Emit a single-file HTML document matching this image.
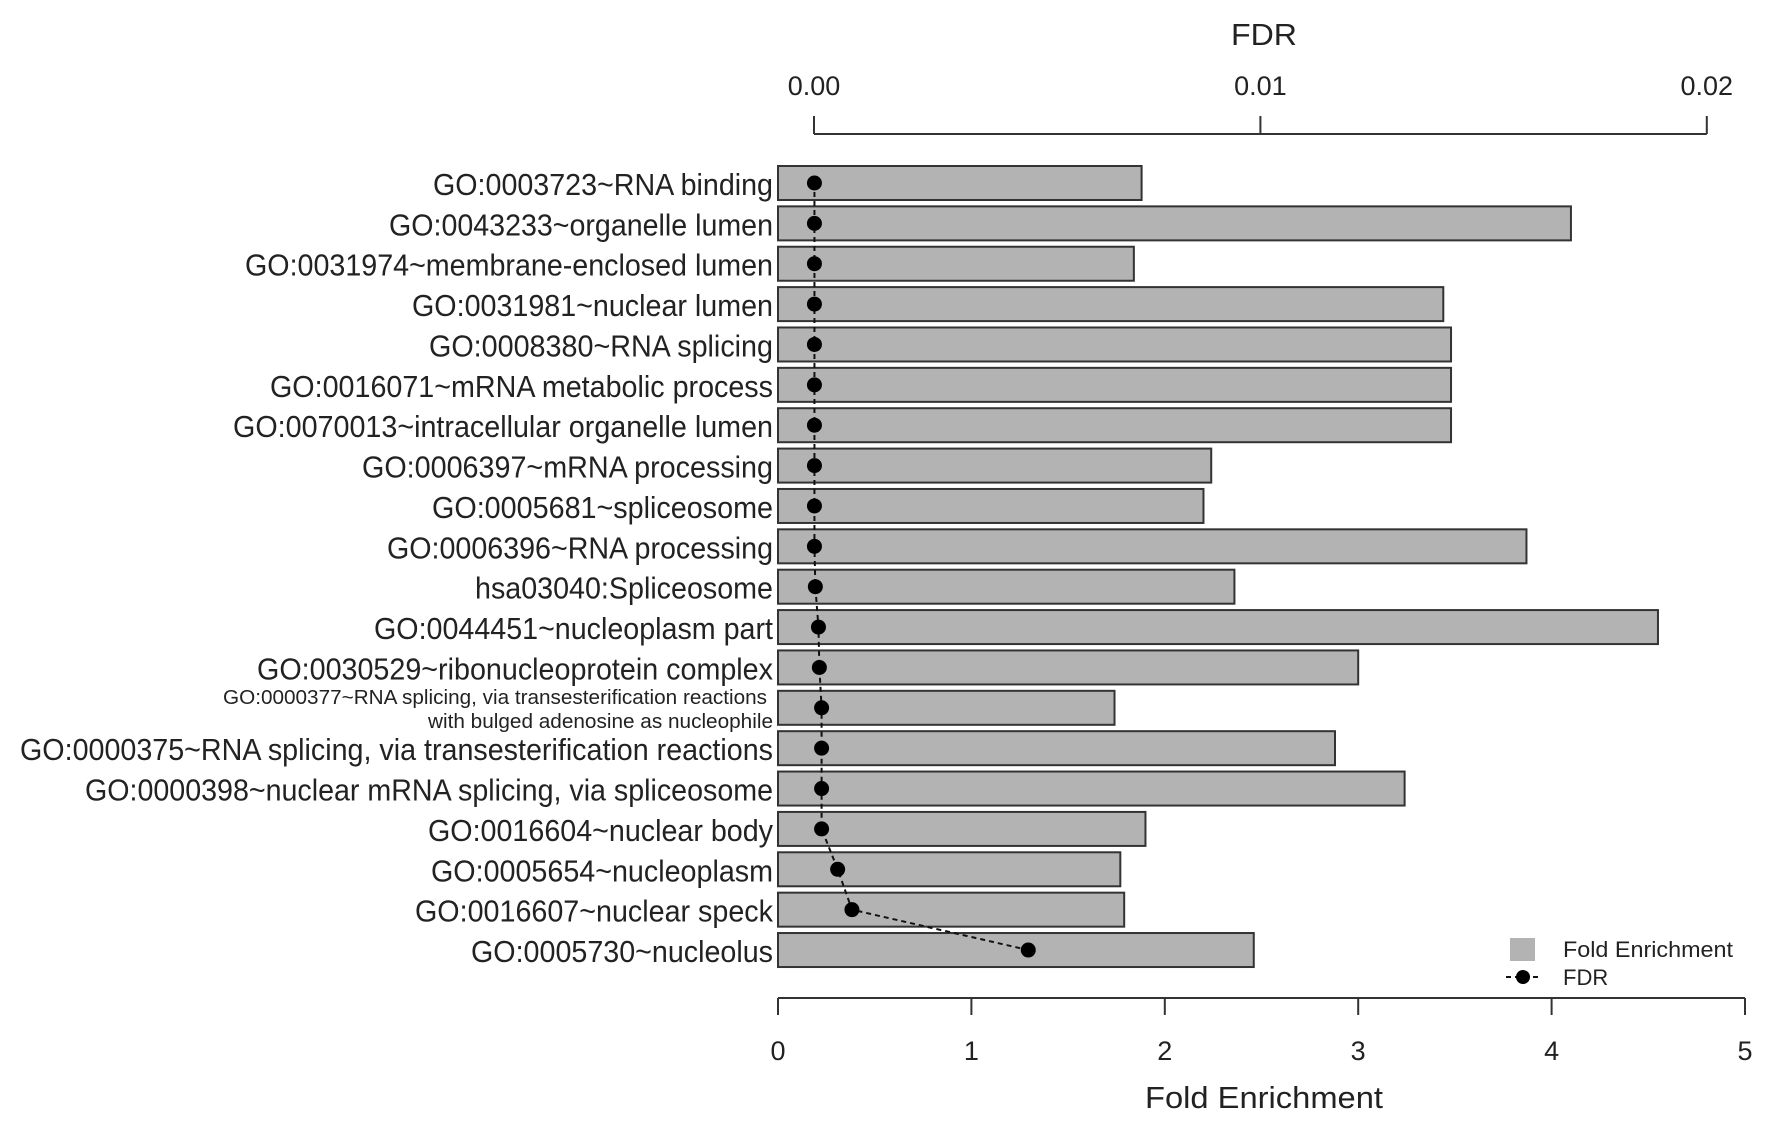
<!DOCTYPE html>
<html><head><meta charset="utf-8"><style>
html,body{margin:0;padding:0;background:#fff;}
svg{display:block;font-family:"Liberation Sans",Arial,sans-serif;}
</style></head><body>
<svg id="chart" width="1772" height="1131" viewBox="0 0 1772 1131" xmlns="http://www.w3.org/2000/svg">
<g id="bars"></g>
<g id="fdrline"></g>
<g id="labels"></g>
<g id="topaxis"></g>
<g id="botaxis"></g>
<text x="1264" y="45" font-size="31" text-anchor="middle" fill="#222" textLength="66" lengthAdjust="spacingAndGlyphs">FDR</text>
<text x="1264" y="1108" font-size="31" text-anchor="middle" fill="#222" textLength="238" lengthAdjust="spacingAndGlyphs">Fold Enrichment</text>
<g>
<rect x="1510" y="938" width="25" height="23" fill="#b3b3b3"/>
<text x="1563" y="957" font-size="22" fill="#222" textLength="170" lengthAdjust="spacingAndGlyphs">Fold Enrichment</text>
<line x1="1506" y1="977" x2="1542" y2="977" stroke="#111" stroke-width="2" stroke-dasharray="5,4"/>
<circle cx="1523" cy="977" r="7" fill="#000"/>
<text x="1563" y="985" font-size="22" fill="#222">FDR</text>
</g>
</svg>
<script>
const categories = ["GO:0003723~RNA binding","GO:0043233~organelle lumen","GO:0031974~membrane-enclosed lumen","GO:0031981~nuclear lumen","GO:0008380~RNA splicing","GO:0016071~mRNA metabolic process","GO:0070013~intracellular organelle lumen","GO:0006397~mRNA processing","GO:0005681~spliceosome","GO:0006396~RNA processing","hsa03040:Spliceosome","GO:0044451~nucleoplasm part","GO:0030529~ribonucleoprotein complex","GO:0000377~RNA splicing, via transesterification reactions|with bulged adenosine as nucleophile","GO:0000375~RNA splicing, via transesterification reactions","GO:0000398~nuclear mRNA splicing, via spliceosome","GO:0016604~nuclear body","GO:0005654~nucleoplasm","GO:0016607~nuclear speck","GO:0005730~nucleolus"];
const foldEnrichment = [1.88,4.10,1.84,3.44,3.48,3.48,3.48,2.24,2.20,3.87,2.36,4.55,3.00,1.74,2.88,3.24,1.90,1.77,1.79,2.46];
const fdr = [0.00001,0.00001,0.00001,0.00001,0.00001,0.00001,0.00001,0.00001,0.00001,0.00001,0.00003,0.0001,0.00012,0.00017,0.00017,0.00017,0.00017,0.00053,0.00085,0.0048];
const foldTicks = [0,1,2,3,4,5];
const fdrTicks = [0,0.01,0.02];
const fdrTickLabels = ["0.00","0.01","0.02"];
const labelWidths = [340,384,528,361,344,503,540,411,341,386,298,399,516,544,753,688,345,342,358,302];

const NS="http://www.w3.org/2000/svg";
const xF = v => 778 + v*193.4;
const xD = v => 814 + v*44640;
const yC = i => 183 + i*40.37;
function mk(tag, attrs, parent){const e=document.createElementNS(NS,tag);for(const k in attrs)e.setAttribute(k,attrs[k]);parent.appendChild(e);return e;}
const gb=document.getElementById('bars'), gl=document.getElementById('labels'), gf=document.getElementById('fdrline');
const gt=document.getElementById('topaxis'), gx=document.getElementById('botaxis');

categories.forEach((c,i)=>{
  const r=mk('rect',{x:xF(0),y:yC(i)-17,width:xF(foldEnrichment[i])-xF(0),height:34,fill:'#b3b3b3',stroke:'#333','stroke-width':2},gb);
  
  
  const parts=c.split('|');
  if(parts.length===1){
    const t=mk('text',{x:773,y:yC(i)+12,'font-size':31,'text-anchor':'end',fill:'#222',textLength:labelWidths[i],lengthAdjust:'spacingAndGlyphs'},gl);
    t.textContent=c;
    
    
  } else {
    const t1=mk('text',{x:767,y:yC(i)-4,'font-size':20,'text-anchor':'end',fill:'#222',textLength:labelWidths[i],lengthAdjust:'spacingAndGlyphs'},gl);
    t1.textContent=parts[0];
    
    
    const t2=mk('text',{x:773,y:yC(i)+20,'font-size':20,'text-anchor':'end',fill:'#222',textLength:345,lengthAdjust:'spacingAndGlyphs'},gl);
    t2.textContent=parts[1];
    
    
  }
});
const pts=fdr.map((v,i)=>xD(v)+','+yC(i)).join(' ');
const pl=mk('polyline',{points:pts,fill:'none',stroke:'#111','stroke-width':2,'stroke-dasharray':'5,4'},gf);


fdr.forEach((v,i)=>{
  const d=mk('circle',{cx:xD(v),cy:yC(i),r:7.5,fill:'#000'},gf);
  
  
});
const tl=mk('line',{x1:xD(fdrTicks[0]),x2:xD(fdrTicks[fdrTicks.length-1]),y1:134,y2:134,stroke:'#333','stroke-width':2},gt);


fdrTicks.forEach((v,i)=>{
  const k=mk('line',{x1:xD(v),x2:xD(v),y1:116,y2:134,stroke:'#333','stroke-width':2},gt);
  
  
  const t=mk('text',{x:xD(v),y:95,'font-size':27,'text-anchor':'middle',fill:'#222'},gt);
  t.textContent=fdrTickLabels[i];
  
  
});
const bl=mk('line',{x1:xF(foldTicks[0]),x2:xF(foldTicks[foldTicks.length-1]),y1:998,y2:998,stroke:'#333','stroke-width':2},gx);


foldTicks.forEach(v=>{
  const k=mk('line',{x1:xF(v),x2:xF(v),y1:998,y2:1015,stroke:'#333','stroke-width':2},gx);
  
  
  const t=mk('text',{x:xF(v),y:1060,'font-size':27,'text-anchor':'middle',fill:'#222'},gx);
  t.textContent=String(v);
  
  
});
</script>
</body></html>
